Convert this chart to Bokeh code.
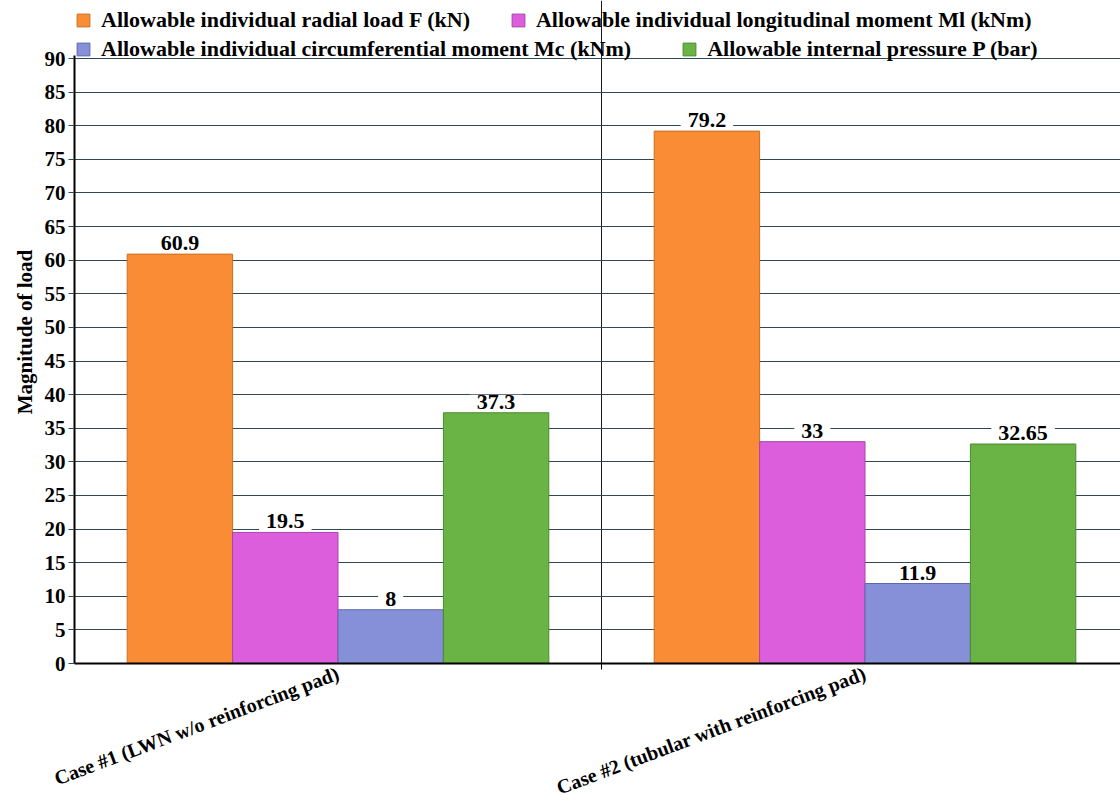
from bokeh.plotting import figure
from bokeh.models import Range1d, FixedTicker, Legend, LegendItem, ColumnDataSource
from bokeh.core.properties import value
from bokeh.transform import dodge
from bokeh.embed import file_html
from bokeh.resources import INLINE

# ---- data ----
categories = ["Case #1 (LWN w/o reinforcing pad)", "Case #2 (tubular with reinforcing pad)"]
series_names = [
    "Allowable individual radial load F (kN)",
    "Allowable individual longitudinal moment Ml (kNm)",
    "Allowable individual circumferential moment Mc (kNm)",
    "Allowable internal pressure P (bar)",
]
radial_load = [60.9, 79.2]
longitudinal_moment = [19.5, 33]
circumferential_moment = [8, 11.9]
internal_pressure = [37.3, 32.65]
y_ticks = list(range(0, 95, 5))

series_values = [radial_load, longitudinal_moment, circumferential_moment, internal_pressure]
fill_colors = ["#FA8C35", "#DC5EDC", "#8590D8", "#6AB445"]
edge_colors = ["#C9701F", "#A844A8", "#5F68A8", "#4C8A30"]

FONT = value("Liberation Serif")
Y_MAX = 90
FRAME_H = 663
# frame extends above the 90 line to host the legend rows
Y_TOP = Y_MAX * FRAME_H / 605

src = {"x": [i + 0.5 for i in range(len(categories))]}
for k, vals in enumerate(series_values):
    src[f"s{k}"] = vals
    src[f"l{k}"] = [f"{v:g}" for v in vals]
source = ColumnDataSource(src)

p = figure(frame_width=1046, frame_height=FRAME_H, output_backend="svg", toolbar_location=None,
           x_range=Range1d(0, 1046 / 527), y_range=Range1d(0, Y_TOP),
           min_border_left=74, min_border_right=0, min_border_top=0, min_border_bottom=0)
p.outline_line_color = None
p.background_fill_color = "white"
p.border_fill_color = "white"

n = len(series_values)
bw = 0.8 / n
renderers = []
for k in range(n):
    off = -0.4 + bw * (k + 0.5)
    r = p.vbar(x=dodge("x", off, range=p.x_range), top=f"s{k}", width=bw, source=source,
               fill_color=fill_colors[k], line_color=edge_colors[k], line_width=1)
    renderers.append(r)
for k in range(n):
    off = -0.4 + bw * (k + 0.5)
    p.text(x=dodge("x", off, range=p.x_range), y=f"s{k}", text=f"l{k}", source=source,
           text_align="center", text_baseline="bottom", y_offset=-2,
           text_font=FONT, text_font_style="bold", text_font_size="22px", text_color="black",
           background_fill_color="white",
           padding=dict(left=7, right=7, top=0, bottom=2))

# grids
p.ygrid.ticker = FixedTicker(ticks=y_ticks)
p.ygrid.grid_line_color = "#2F4858"
p.ygrid.grid_line_width = 1
p.xgrid.ticker = FixedTicker(ticks=[float(i) for i in range(1, len(categories))])
p.xgrid.grid_line_color = "#1a1a1a"
p.xgrid.grid_line_width = 1
p.xgrid.bounds = (0, Y_MAX)

# y axis
ya = p.yaxis[0]
ya.ticker = FixedTicker(ticks=y_ticks)
ya.bounds = (0, Y_MAX + 0.5)
ya.axis_line_width = 2
ya.axis_line_color = "black"
ya.major_tick_out = 6
ya.major_tick_in = 0
ya.major_tick_line_color = "#2F4858"
ya.minor_tick_line_color = None
ya.major_label_standoff = 3
ya.major_label_text_font = "Liberation Serif"
ya.major_label_text_font_style = "bold"
ya.major_label_text_font_size = "21px"
ya.major_label_text_color = "black"
ya.axis_label = "Magnitude of load"
ya.axis_label_text_font = "Liberation Serif"
ya.axis_label_text_font_style = "bold"
ya.axis_label_text_font_size = "21px"
ya.axis_label_text_color = "black"
ya.axis_label_standoff = 5

# x axis
xa = p.xaxis[0]
xa.ticker = FixedTicker(ticks=src["x"], minor_ticks=[float(i) for i in range(1, len(categories))])
xa.major_label_overrides = {x: c for x, c in zip(src["x"], categories)}
xa.major_label_orientation = 0.36
xa.axis_line_width = 2
xa.axis_line_color = "black"
xa.major_tick_line_color = None
xa.major_tick_out = 0
xa.minor_tick_out = 6
xa.minor_tick_in = 0
xa.minor_tick_line_color = "black"
xa.major_label_standoff = 3
xa.major_label_text_font = "Liberation Serif"
xa.major_label_text_font_style = "bold"
xa.major_label_text_font_size = "20px"
xa.major_label_text_color = "black"

# legends (two rows, in the band above the 90 line)
def make_legend(idx, loc, spacing):
    return Legend(items=[LegendItem(label=series_names[i], renderers=[renderers[i]]) for i in idx],
                  location=loc, orientation="horizontal", spacing=spacing,
                  padding=0, margin=0, glyph_width=16, glyph_height=16, label_height=16,
                  label_standoff=10, border_line_color=None, background_fill_alpha=0,
                  label_text_font="Liberation Serif", label_text_font_style="bold",
                  label_text_font_size="22px", label_text_color="black")

p.add_layout(make_legend([0, 1], (1, FRAME_H - 33), 40))
p.add_layout(make_legend([2, 3], (1, FRAME_H - 62), 50))

open("out.html", "w").write(file_html(p, INLINE))
